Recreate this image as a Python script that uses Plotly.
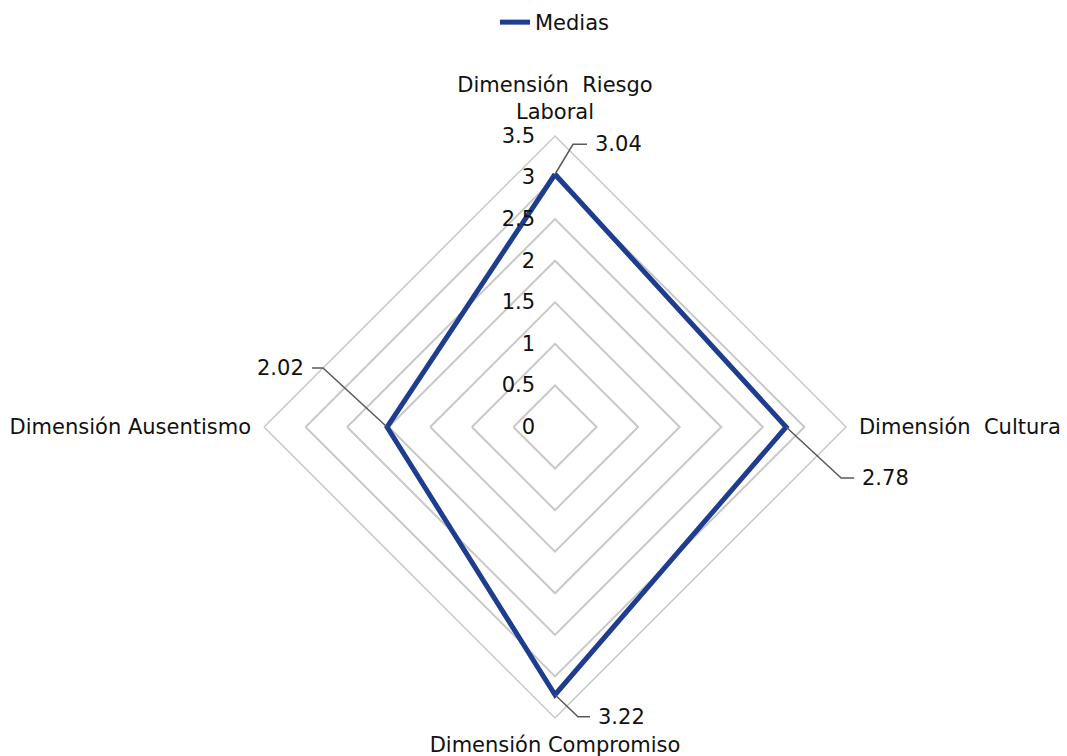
import plotly.graph_objects as go
import math

categories = ["Dimensión\u00a0 Riesgo<br>Laboral", "Dimensión\u00a0 Cultura",
              "Dimensión Compromiso", "Dimensión Ausentismo"]
values = [3.04, 2.78, 3.22, 2.02]
value_labels = ["3.04", "2.78", "3.22", "2.02"]
series_name = "Medias"
r_max = 3.5
tick_vals = [0, 0.5, 1, 1.5, 2, 2.5, 3, 3.5]

W, H = 1067, 756
cx, cy, R = 555, 427, 291  # pixel geometry of polar area
FONT = "DejaVu Sans"
FS = 21

fig = go.Figure()
fig.add_trace(go.Scatterpolar(
    r=values + values[:1], theta=categories + categories[:1],
    mode="lines", name=series_name,
    line=dict(color="#1F3D8F", width=5),
))

# leader lines and value labels (pixel offsets are styling only)
offsets = [(18, -30, 14), (55, 51, 13), (23, 22, 12), (-64, -59, -11)]
angles_deg = [90, 0, -90, 180]  # clockwise from top
shapes, annots = [], []
for v, lab, ang, (dx, dy, hx) in zip(values, value_labels, angles_deg, offsets):
    px = cx + v / r_max * R * math.cos(math.radians(ang))
    py = cy - v / r_max * R * math.sin(math.radians(ang))
    ex, ey = px + dx, py + dy
    fx = ex + hx
    path = f"M {px/W} {1-py/H} L {ex/W} {1-ey/H} L {fx/W} {1-ey/H}"
    shapes.append(dict(type="path", xref="paper", yref="paper", path=path,
                       line=dict(color="#595959", width=1.5)))
    annots.append(dict(x=(fx + (6 if hx > 0 else -6)) / W, y=1 - ey / H,
                       xref="paper", yref="paper", text=lab, showarrow=False,
                       xanchor="left" if hx > 0 else "right", yanchor="middle",
                       font=dict(family=FONT, size=FS, color="#111111")))

fig.update_layout(
    width=W, height=H,
    margin=dict(l=0, r=0, t=0, b=0),
    paper_bgcolor="white",
    font=dict(family=FONT, size=FS, color="#111111"),
    showlegend=True,
    legend=dict(orientation="h", x=cx / W, xanchor="center", y=1 - 2 / H, yanchor="top",
                font=dict(family=FONT, size=FS), bgcolor="rgba(0,0,0,0)"),
    polar=dict(
        domain=dict(x=[(cx - R) / W, (cx + R) / W], y=[1 - (cy + R) / H, 1 - (cy - R) / H]),
        bgcolor="white",
        gridshape="linear",
        radialaxis=dict(range=[0, r_max], tickvals=tick_vals,
                        ticktext=[f"{t:g}" for t in tick_vals],
                        angle=90, side="counterclockwise", tickangle=90,
                        showline=False, gridcolor="#C8C8C8", gridwidth=1.5,
                        ticks="outside", ticklen=12, tickcolor="rgba(0,0,0,0)",
                        tickfont=dict(family=FONT, size=FS, color="#111111")),
        angularaxis=dict(direction="clockwise", rotation=90,
                         showgrid=False, showline=True, linecolor="#C8C8C8", linewidth=1.5,
                         ticks="outside", ticklen=8, tickcolor="rgba(0,0,0,0)",
                         tickfont=dict(family=FONT, size=FS, color="#111111")),
    ),
    shapes=shapes,
    annotations=annots,
)

fig.write_html("out.html")
